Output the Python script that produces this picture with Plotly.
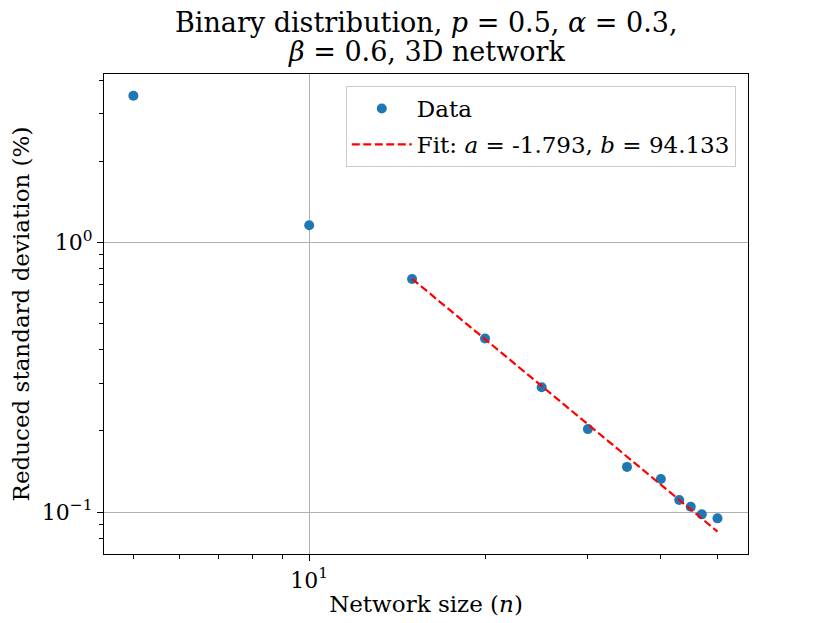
import plotly.graph_objects as go

# network sizes and reduced standard deviation (%)
network_size = [5, 10, 15, 20, 25, 30, 35, 40, 43, 45, 47, 50]
reduced_std = [3.50, 1.157, 0.732, 0.440, 0.290, 0.203, 0.147, 0.1325, 0.1108, 0.1046, 0.0980, 0.0947]

# power-law fit y = b * n^a, drawn over n >= 15
fit_a = -1.793
fit_b = 94.133
fit_x = [n for n in network_size if n >= 15]
fit_y = [fit_b * n ** fit_a for n in fit_x]

title_lines = ["Binary distribution, <i>p</i> = 0.5, <i>α</i> = 0.3,",
               "<i>β</i> = 0.6, 3D network"]

x_major = [10]
x_major_text = ["10<sup>1</sup>"]
x_minor = [5, 6, 7, 8, 9, 20, 30, 40, 50]
y_major = [0.1, 1]
y_major_text = ["10<sup>\u22121</sup>", "10<sup>0</sup>"]
y_minor = [0.08, 0.09, 0.2, 0.3, 0.4, 0.5, 0.6, 0.7, 0.8, 0.9, 2, 3, 4]

font = "DejaVu Serif"

fig = go.Figure()
fig.add_trace(go.Scatter(x=network_size, y=reduced_std, mode="markers", name="Data",
                         legendgroup="data",
                         marker=dict(color="#1f77b4", size=10)))
fig.add_trace(go.Scatter(x=fit_x, y=fit_y, mode="lines",
                         name="Fit: <i>a</i> = -1.793, <i>b</i> = 94.133",
                         legendgroup="fit",
                         line=dict(color="red", width=2.2, dash="8px,3.5px")))

# the page adds an 8px body margin, so the margins are shifted to compensate
fig.update_layout(
    width=830, height=623,
    margin=dict(l=96, r=90, t=66, b=77, autoexpand=False),
    paper_bgcolor="white", plot_bgcolor="white",
    font=dict(family=font, size=22, color="black"),
    legend=dict(x=0.981, y=0.975, xanchor="right", yanchor="top",
                bordercolor="#cccccc", borderwidth=1, bgcolor="rgba(255,255,255,0.8)",
                font=dict(family=font, size=23), itemwidth=60, tracegroupgap=3),
    showlegend=True,
)

for i, line in enumerate(title_lines):
    fig.add_annotation(text=line, x=0.5, xref="paper", y=1.108 - i * 0.062, yref="paper",
                       xanchor="center", yanchor="middle", showarrow=False,
                       font=dict(family=font, size=27))

axis_common = dict(
    type="log", showline=True, linecolor="black", linewidth=1.3, mirror=True,
    ticks="outside", ticklen=6, tickwidth=1.3, tickcolor="black",
    showgrid=True, gridcolor="#b0b0b0", gridwidth=1.2, zeroline=False,
    tickfont=dict(family=font, size=22),
)

fig.update_xaxes(
    **axis_common, range=[0.6487, 1.7512],
    tickvals=x_major, ticktext=x_major_text,
    minor=dict(tickvals=x_minor, ticks="outside", ticklen=3.5, tickwidth=1, tickcolor="black", showgrid=False),
    title=dict(text="Network size (<i>n</i>)", font=dict(family=font, size=23), standoff=4),
)
fig.update_yaxes(
    **axis_common, range=[-1.1558, 0.6246],
    tickvals=y_major, ticktext=y_major_text,
    minor=dict(tickvals=y_minor, ticks="outside", ticklen=3.5, tickwidth=1, tickcolor="black", showgrid=False),
    title=dict(text="Reduced standard deviation (%)", font=dict(family=font, size=23), standoff=8),
)

fig.write_html("out.html")
